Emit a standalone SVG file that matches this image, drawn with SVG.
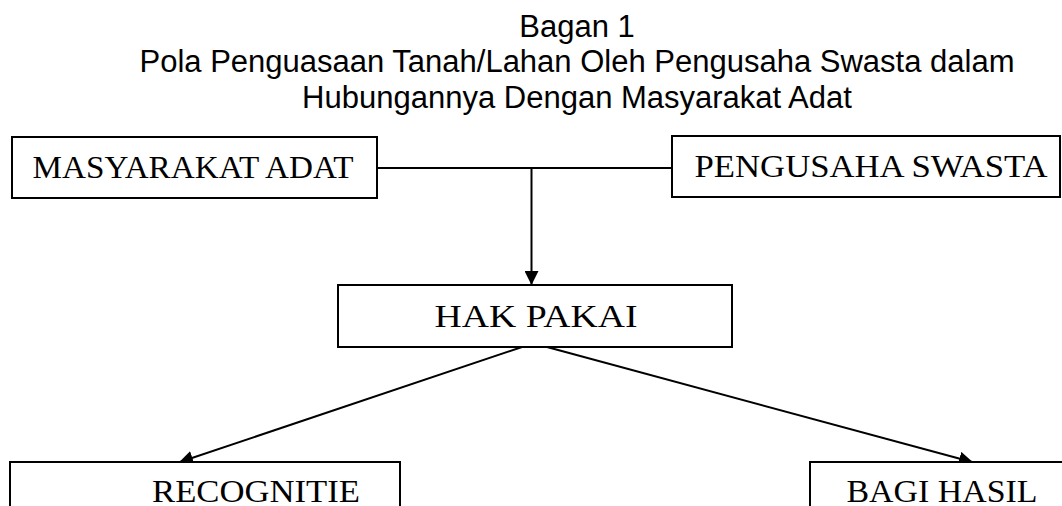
<svg xmlns="http://www.w3.org/2000/svg" width="1062" height="506" viewBox="0 0 1062 506">
<style>
.title{font-family:"Liberation Sans",Arial,sans-serif;font-size:31px;fill:#000;text-anchor:middle}
.box{fill:#fff;stroke:#000;stroke-width:2}
.lbl{font-family:"Liberation Serif","Times New Roman",serif;font-size:32px;fill:#000;text-anchor:middle}
.conn{stroke:#000;stroke-width:2;fill:none}
</style>
<defs>
<marker id="arr" markerWidth="14" markerHeight="14" refX="13" refY="7" orient="auto" markerUnits="userSpaceOnUse">
<path d="M0,0 L14,7 L0,14 Z" fill="#000"/>
</marker>
</defs>
<rect width="1062" height="506" fill="#fff"/>
<g id="title">
<text class="title" x="577" y="37">Bagan 1</text>
<text class="title" x="577" y="72">Pola Penguasaan Tanah/Lahan Oleh Pengusaha Swasta dalam</text>
<text class="title" x="577" y="108">Hubungannya Dengan Masyarakat Adat</text>
</g>
<g id="connectors">
<line class="conn" x1="377" y1="168" x2="672" y2="168"/>
<line class="conn" x1="531.5" y1="168" x2="531.5" y2="284" marker-end="url(#arr)"/>
<line class="conn" x1="522" y1="347" x2="180" y2="462" marker-end="url(#arr)"/>
<line class="conn" x1="547" y1="347" x2="972" y2="462" marker-end="url(#arr)"/>
</g>
<g id="masyarakat-adat">
<rect class="box" x="12" y="137" width="365" height="61"/>
<text class="lbl" x="193" y="178" textLength="321" lengthAdjust="spacingAndGlyphs">MASYARAKAT ADAT</text>
</g>
<g id="pengusaha-swasta">
<rect class="box" x="672" y="136" width="388" height="61"/>
<text class="lbl" x="871" y="177" textLength="353" lengthAdjust="spacingAndGlyphs">PENGUSAHA SWASTA</text>
</g>
<g id="hak-pakai">
<rect class="box" x="338" y="285" width="394" height="62"/>
<text class="lbl" x="536" y="327" textLength="203" lengthAdjust="spacingAndGlyphs">HAK PAKAI</text>
</g>
<g id="recognitie">
<rect class="box" x="10" y="462" width="390" height="60"/>
<text class="lbl" x="256" y="502" textLength="208" lengthAdjust="spacingAndGlyphs">RECOGNITIE</text>
</g>
<g id="bagi-hasil">
<rect class="box" x="810" y="462" width="270" height="60"/>
<text class="lbl" x="942" y="502" textLength="191" lengthAdjust="spacingAndGlyphs">BAGI HASIL</text>
</g>
</svg>
